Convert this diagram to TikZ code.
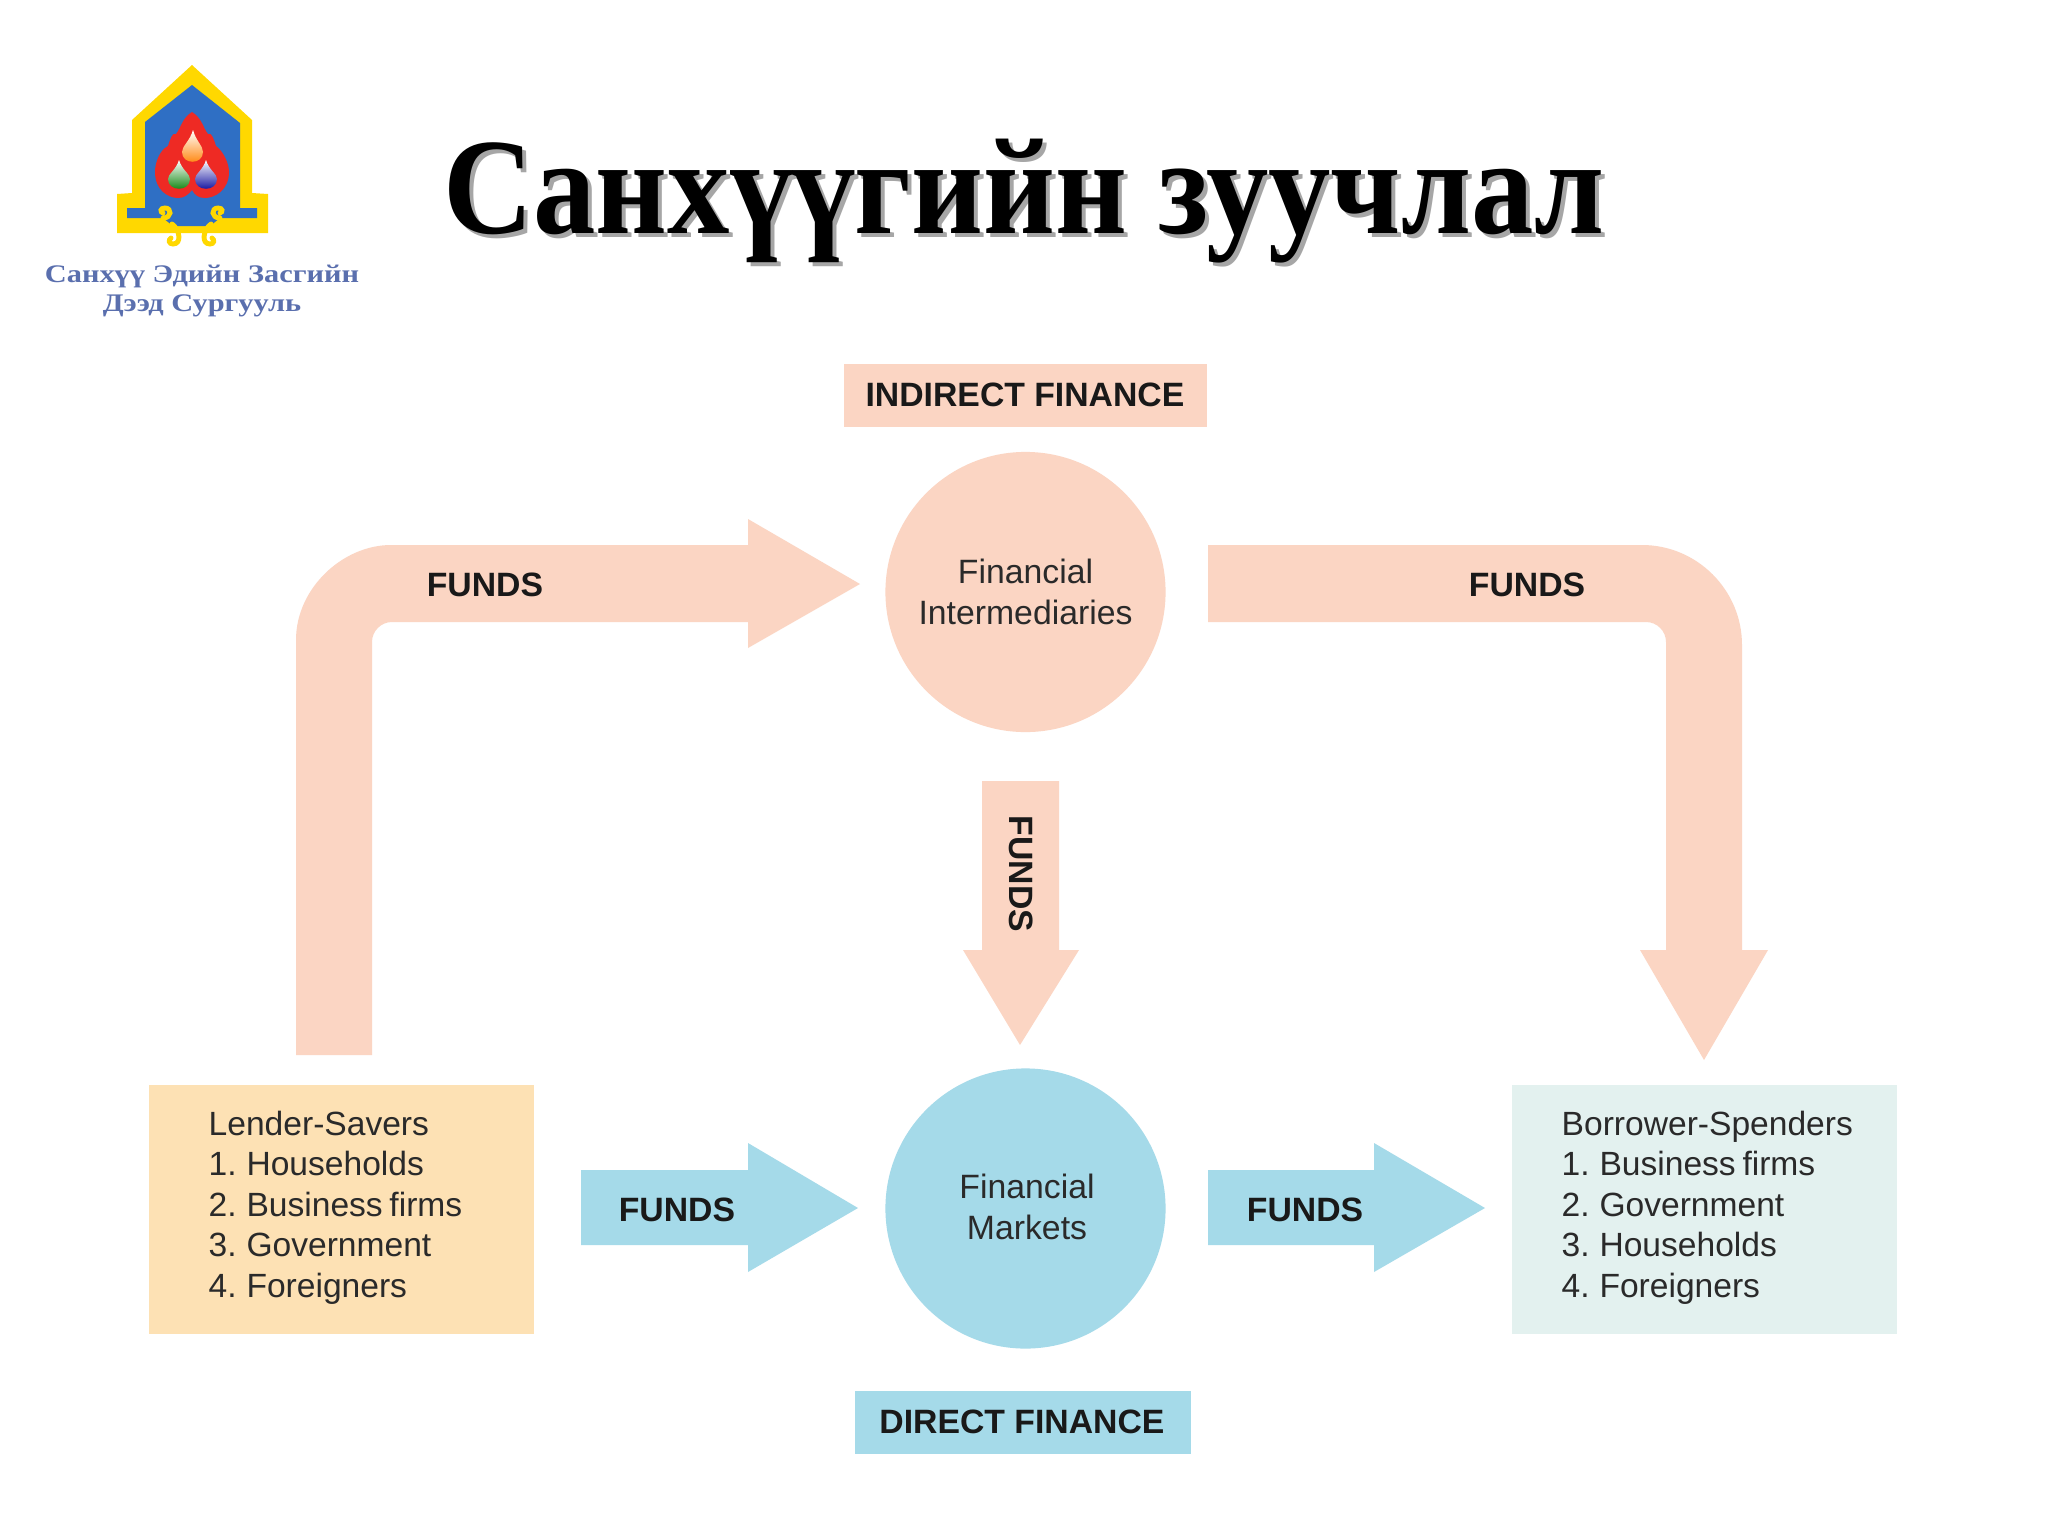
\documentclass[tikz,border=0pt]{standalone}
\usepackage{fontspec}
\setmainfont{Liberation Sans}
\newfontfamily\serifc{Liberation Serif}
\newfontfamily\bodyfam[WordSpace=0.72]{Liberation Sans}
\definecolor{peach}{HTML}{FBD5C3}
\definecolor{skyb}{HTML}{A5DAE9}
\definecolor{sandy}{HTML}{FDE1B4}
\definecolor{palemint}{HTML}{E3F1EF}
\definecolor{logoyellow}{HTML}{FFD800}
\definecolor{logoblue}{HTML}{2F6FC4}
\definecolor{logored}{HTML}{EE2A24}
\definecolor{logotext}{HTML}{5A6FAE}
\definecolor{inktext}{HTML}{2A2A2A}
\tikzset{
  x=0.01cm,y=-0.01cm,
  labelbold/.style={font=\bfseries\fontsize{9.6pt}{12pt}\selectfont,text=black!90,inner sep=0pt},
  bodytext/.style={font=\bodyfam\fontsize{9.55pt}{11.5pt}\selectfont,text=inktext,align=left,inner sep=0pt},
  circtext/.style={font=\fontsize{9.6pt}{11.5pt}\selectfont,text=inktext,align=center,inner sep=0pt},
  hub/.style={circle,minimum size=2.8cm,inner sep=0pt},
  banner/.style={rectangle,inner sep=0pt},
  logotxt/.style={font=\serifc\bfseries\fontsize{7.2pt}{8.4pt}\selectfont,text=logotext,inner sep=0pt,xscale=1.2}
}
\begin{document}
\begin{tikzpicture}
\useasboundingbox (0,0) rectangle (2048,1536);
\fill[white] (0,0) rectangle (2048,1536);
% title
\node[text=black!35,font=\serifc\bfseries\fontsize{39pt}{40pt}\selectfont,inner sep=0pt,xscale=0.91] (titleshadow) at (1028,205) {Санхүүгийн зуучлал};
\node[text=black,font=\serifc\bfseries\fontsize{39pt}{40pt}\selectfont,inner sep=0pt,xscale=0.91] (title) at (1024,201) {Санхүүгийн зуучлал};
% logo
\fill[logoyellow] (192,65) -- (252,120) -- (252,193) -- (268,194) -- (268,233) -- (117,233) -- (117,194) -- (132,193) -- (132,120) -- cycle;
\fill[logoblue] (192,85) -- (240,123) -- (240,208) -- (257,208) -- (257,218) -- (220,218) -- (210,226) -- (173,226) -- (163,218) -- (127,218) -- (127,208) -- (145,208) -- (145,122) -- cycle;
\fill[logored] (192,112) .. controls (202,118) and (203,128) .. (208,134) .. controls (212,132) and (214,140) .. (216,146) .. controls (222,150) and (229,162) .. (229,172) .. controls (229,190) and (215,198) .. (205,198) .. controls (198,198) and (195,195) .. (192,190) .. controls (188,195) and (184,198) .. (178,198) .. controls (168,198) and (155,190) .. (155,172) .. controls (155,162) and (160,150) .. (168,146) .. controls (170,140) and (172,132) .. (176,134) .. controls (181,128) and (182,118) .. (192,112) -- cycle;
\shade[top color=white,middle color=logoyellow,bottom color=orange] (193,130) .. controls (196,141) and (203,146) .. (203,152) .. controls (203,165) and (182,165) .. (182,152) .. controls (182,146) and (190,141) .. (193,130) -- cycle;
\shade[top color=white,middle color=white!70!green,bottom color=green!50!black] (179,160) .. controls (182,170) and (190,174) .. (190,179) .. controls (190,192) and (168,192) .. (168,179) .. controls (168,174) and (176,170) .. (179,160) -- cycle;
\shade[top color=white,middle color=cyan!60,bottom color=blue!60!black] (206,160) .. controls (209,170) and (217,174) .. (217,179) .. controls (217,192) and (195,192) .. (195,179) .. controls (195,174) and (203,170) .. (206,160) -- cycle;
\draw[logoyellow,line width=1.4pt,line cap=round] (163,218) .. controls (172,218) and (172,208) .. (165,208) .. controls (160,208) and (160,212) .. (163,213);
\draw[logoyellow,line width=1.4pt,line cap=round] (220,218) .. controls (211,218) and (211,208) .. (218,208) .. controls (223,208) and (223,212) .. (220,213);
\draw[logoyellow,line width=1.4pt,line cap=round] (172,224) .. controls (180,230) and (182,244) .. (173,244) .. controls (169,244) and (168,240) .. (171,238);
\draw[logoyellow,line width=1.4pt,line cap=round] (211,224) .. controls (203,230) and (201,244) .. (210,244) .. controls (214,244) and (215,240) .. (212,238);
\node[logotxt] (logoa) at (202,276) {Санхүү Эдийн Засгийн};
\node[logotxt] (logob) at (202,306) {Дээд Сургууль};
% hubs
\node[hub,fill=peach] (fi) at (1025.5,592) {};
\node[circtext] (fitext) at (1025.5,592) {Financial\\Intermediaries};
\node[hub,fill=skyb] (fm) at (1025.5,1208.5) {};
\node[circtext] (fmtext) at (1027,1207) {Financial\\Markets};
% banners
\node[banner,fill=peach,minimum width=3.63cm,minimum height=0.62cm] (indirect) at (1025.5,395.5) {};
\node[labelbold] (indirecttext) at (1025,395) {INDIRECT FINANCE};
\node[banner,fill=skyb,minimum width=3.35cm,minimum height=0.63cm] (direct) at (1023,1422) {};
\node[labelbold] (directtext) at (1022,1422) {DIRECT FINANCE};
% boxes
\node[banner,fill=sandy,minimum width=3.84cm,minimum height=2.48cm] (lender) at (341.5,1209.5) {};
\node[bodytext,anchor=west] (lendertext) at (208,1207.5) {Lender-Savers\\1. Households\\2. Business firms\\3. Government\\4. Foreigners};
\node[banner,fill=palemint,minimum width=3.84cm,minimum height=2.48cm] (borrower) at (1704.5,1209.5) {};
\node[bodytext,anchor=west] (borrowertext) at (1561,1207.5) {Borrower-Spenders\\1. Business firms\\2. Government\\3. Households\\4. Foreigners};
% block arrows
\fill[peach] (296,1055) -- (296,640) .. controls (296,588) and (343,545) .. (391,545) -- (748,545) -- (748,519) -- (860,584) -- (748,648) -- (748,622) -- (392,622) .. controls (381,622) and (372,631) .. (372,642) -- (372,1055) -- cycle;
\fill[peach] (1208,545) -- (1642,545) .. controls (1697,545) and (1742,590) .. (1742,645) -- (1742,950) -- (1768,950) -- (1704,1060) -- (1640,950) -- (1666,950) -- (1666,642) .. controls (1666,631) and (1657,622) .. (1646,622) -- (1208,622) -- cycle;
\fill[peach] (982,781) -- (1059,781) -- (1059,950) -- (1079,950) -- (1020,1045) -- (963,950) -- (982,950) -- cycle;
\fill[skyb] (581,1170) -- (748,1170) -- (748,1143) -- (858,1208) -- (748,1272) -- (748,1245) -- (581,1245) -- cycle;
\fill[skyb] (1208,1170) -- (1374,1170) -- (1374,1143) -- (1485,1208) -- (1374,1272) -- (1374,1245) -- (1208,1245) -- cycle;
% arrow labels
\node[labelbold] (f1) at (485,585) {FUNDS};
\node[labelbold] (f2) at (1527,585) {FUNDS};
\node[labelbold,rotate=-90] (f3) at (1021,874) {FUNDS};
\node[labelbold] (f4) at (677,1210) {FUNDS};
\node[labelbold] (f5) at (1305,1210) {FUNDS};
\end{tikzpicture}
\end{document}
